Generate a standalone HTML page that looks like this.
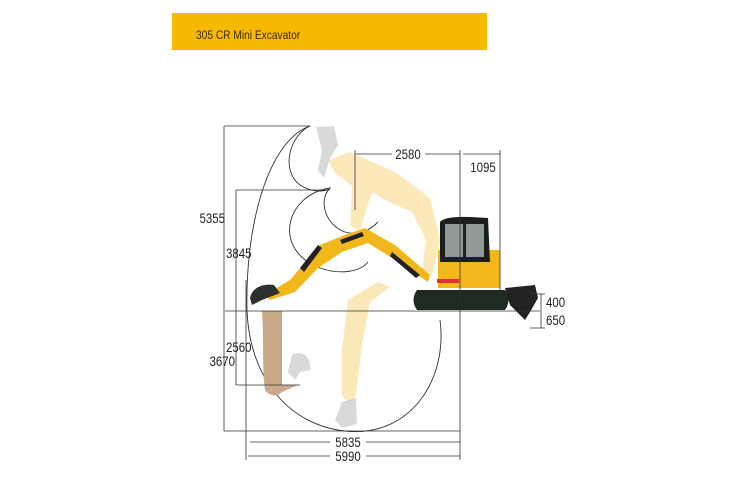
<!DOCTYPE html>
<html><head><meta charset="utf-8"><style>
html,body{margin:0;padding:0;background:#fff;}
svg{display:block;}
text{font-family:"Liberation Sans",sans-serif;}
</style></head><body>
<svg width="750" height="500" viewBox="0 0 750 500" xmlns="http://www.w3.org/2000/svg">
<rect x="172" y="13" width="315" height="37" fill="#f7b900"/>
<text x="196" y="39" font-size="12" fill="#3a2a00" transform="translate(196 0) scale(0.85 1) translate(-196 0)">305 CR Mini Excavator</text>

<g fill="none" stroke="#333" stroke-width="0.9">
<path d="M310,126 C270,140 245,220 247,311 C250,380 290,425 345,431 C410,438 448,380 440,320"/>
<path d="M310,126 C290,135 280,170 300,185 C315,195 330,190 330,188 C318,200 325,225 345,232 C360,236 370,230 378,222"/>
<path d="M330,188 C285,195 272,250 320,268 C340,275 360,272 368,262"/>
</g>

<path d="M262,311 L282,311 L282,385 L298,385 L282,392 C276,398 268,395 265,390 C262,370 264,340 262,311Z" fill="#c9a98a"/>

<g fill="#fbe3a8" opacity="0.8">
<path d="M328,160 L350,152 L395,172 L430,198 L440,240 L432,275 L422,272 L426,240 L412,212 L385,200 L372,192 L360,230 L350,226 L352,186 L334,172Z"/>
<path d="M348,300 L378,282 L390,287 L370,302 L362,345 L356,395 L350,405 L342,395 L342,350Z"/>
</g>
<g fill="#cdd1ce" opacity="0.8">
<path d="M316,127 L334,126 L338,145 L330,158 L324,178 L318,170 L322,150Z"/>
<path d="M292,355 C300,350 312,355 310,370 L300,372 L295,380 L288,372Z"/>
<path d="M342,402 L356,398 L357,424 L342,428 L335,420Z"/>
</g>

<path d="M417,290 L505,290 Q512,300 505,310 L417,310 Q410,300 417,290Z" fill="#1f2a22"/>
<rect x="438" y="250" width="62" height="38" fill="#f2b71b"/>
<path d="M440,255 L440,222 Q445,216 470,217 L488,218 L490,262 L440,262Z" fill="#1c1f1c"/>
<rect x="445" y="224" width="18" height="33" fill="#8f9a99"/>
<rect x="466" y="224" width="18" height="33" fill="#8f9a99"/>
<rect x="437" y="279" width="22" height="4" fill="#d33"/>
<path d="M505,288 L535,285 L538,298 L530,312 L525,320 L510,305Z" fill="#222"/>
<path d="M265,295 L290,280 L320,245 L345,235 L365,228 L395,245 L430,275 L428,282 L392,258 L368,243 L342,252 L318,268 L295,292 L270,300Z" fill="#f2b71b"/>
<path d="M300,268 L318,245 L322,248 L304,272Z" fill="#222"/>
<path d="M340,240 L362,232 L364,236 L342,244Z" fill="#222"/>
<path d="M392,252 L420,275 L416,278 L390,256Z" fill="#222"/>
<path d="M250,298 C252,288 262,283 274,285 L280,293 L262,300 L252,305Z" fill="#2b312c"/>

<g stroke="#333" stroke-width="0.8" fill="none">
<line x1="225" y1="311" x2="540" y2="311"/>
<line x1="224" y1="126" x2="310" y2="126"/>
<line x1="236" y1="190" x2="330" y2="190"/>
<line x1="236" y1="385" x2="300" y2="385"/>
<line x1="224" y1="431" x2="460" y2="431"/>
<line x1="224" y1="126" x2="224" y2="431"/>
<line x1="236" y1="190" x2="236" y2="385"/>
<line x1="246" y1="280" x2="246" y2="460"/>
<line x1="460" y1="150" x2="460" y2="460"/>
<line x1="355" y1="150" x2="355" y2="210"/>
<line x1="500" y1="150" x2="500" y2="290"/>
<line x1="355" y1="154" x2="392" y2="154"/>
<line x1="425" y1="154" x2="460" y2="154"/>
<line x1="463" y1="154" x2="500" y2="154"/>
<line x1="250" y1="442" x2="330" y2="442"/>
<line x1="366" y1="442" x2="460" y2="442"/>
<line x1="248" y1="456" x2="330" y2="456"/>
<line x1="366" y1="456" x2="460" y2="456"/>
<line x1="541" y1="294" x2="541" y2="328"/>
<line x1="530" y1="294" x2="545" y2="294"/>
<line x1="530" y1="328" x2="545" y2="328"/>
</g>
<g font-size="14" fill="#222">
<text x="225" y="223" text-anchor="end" transform="translate(225 0) scale(0.82 1) translate(-225 0)">5355</text>
<text x="226" y="258" transform="translate(226 0) scale(0.82 1) translate(-226 0)">3845</text>
<text x="226" y="352" transform="translate(226 0) scale(0.82 1) translate(-226 0)">2560</text>
<text x="235" y="366" text-anchor="end" transform="translate(235 0) scale(0.82 1) translate(-235 0)">3670</text>
<text x="408" y="159" text-anchor="middle" transform="translate(408 0) scale(0.82 1) translate(-408 0)">2580</text>
<text x="483" y="172" text-anchor="middle" transform="translate(483 0) scale(0.82 1) translate(-483 0)">1095</text>
<text x="348" y="447" text-anchor="middle" transform="translate(348 0) scale(0.82 1) translate(-348 0)">5835</text>
<text x="348" y="461" text-anchor="middle" transform="translate(348 0) scale(0.82 1) translate(-348 0)">5990</text>
<text x="546" y="307" transform="translate(546 0) scale(0.82 1) translate(-546 0)">400</text>
<text x="546" y="325" transform="translate(546 0) scale(0.82 1) translate(-546 0)">650</text>
</g>
</svg>
</body></html>
